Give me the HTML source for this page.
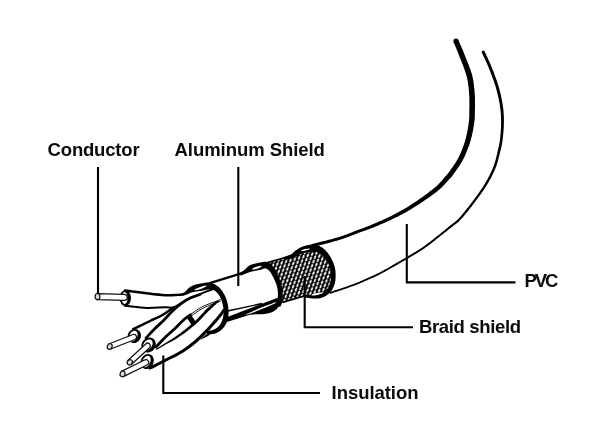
<!DOCTYPE html><html><head><meta charset="utf-8"><style>html,body{margin:0;padding:0;background:#fff;overflow:hidden}svg{display:block}</style></head><body><svg width="600" height="437" viewBox="0 0 600 437"><rect width="600" height="437" fill="#fff"/><path d="M453.6 42.0L454.0 42.9L454.3 43.8L454.7 44.7L455.0 45.5L455.4 46.4L455.8 47.2L456.1 48.1L456.5 49.0L456.8 49.8L457.2 50.7L457.5 51.6L457.9 52.5L458.3 53.5L458.7 54.5L459.1 55.5L459.5 56.6L459.9 57.7L460.4 58.9L460.9 60.1L461.4 61.4L461.9 62.7L462.4 64.0L462.9 65.3L463.4 66.6L463.9 68.0L464.4 69.3L464.9 70.6L465.3 71.9L465.7 73.2L466.1 74.5L466.5 75.7L466.8 76.9L467.1 78.1L467.3 79.2L467.6 80.4L467.8 81.6L468.0 82.8L468.1 83.9L468.3 85.1L468.4 86.3L468.6 87.4L468.7 88.6L468.8 89.7L468.9 90.8L469.0 92.0L469.0 93.1L469.1 94.1L469.2 95.2L469.3 96.2L469.3 97.2L469.4 98.2L469.4 99.2L469.4 100.1L469.4 101.1L469.4 102.0L469.4 102.9L469.4 103.8L469.4 104.7L469.4 105.6L469.4 106.5L469.4 107.4L469.3 108.2L469.3 109.1L469.3 110.0L469.3 110.8L469.3 111.6L469.3 112.4L469.3 113.1L469.3 113.8L469.3 114.5L469.3 115.2L469.3 115.9L469.3 116.5L469.2 117.2L469.2 117.9L469.2 118.6L469.1 119.3L469.0 120.1L469.0 120.8L468.9 121.7L468.8 122.5L468.6 123.4L468.5 124.4L468.4 125.4L468.2 126.4L468.0 127.4L467.9 128.5L467.7 129.5L467.5 130.5L467.3 131.6L467.1 132.6L466.9 133.6L466.7 134.6L466.4 135.6L466.2 136.5L466.0 137.4L465.8 138.2L465.6 139.0L465.4 139.8L465.2 140.6L464.9 141.3L464.7 142.1L464.5 142.8L464.2 143.5L464.0 144.2L463.8 144.9L463.5 145.6L463.3 146.3L463.0 147.0L462.7 147.7L462.5 148.4L462.2 149.1L462.0 149.7L461.7 150.4L461.5 151.0L461.2 151.7L460.9 152.3L460.7 152.9L460.4 153.5L460.2 154.1L459.9 154.7L459.6 155.3L459.3 155.8L459.1 156.4L458.8 157.0L458.5 157.6L458.1 158.2L457.8 158.8L457.5 159.4L457.1 160.0L456.8 160.6L456.4 161.3L456.0 161.9L455.6 162.5L455.2 163.2L454.8 163.8L454.4 164.4L453.9 165.1L453.5 165.7L453.1 166.3L452.7 166.9L452.3 167.5L451.9 168.0L451.5 168.6L451.1 169.1L450.8 169.6L450.5 170.1L450.2 170.5L449.9 170.9L449.6 171.3L449.3 171.7L449.0 172.1L448.7 172.5L448.4 172.9L448.1 173.3L447.7 173.8L447.3 174.2L446.9 174.7L446.4 175.3L445.8 175.9L445.2 176.6L444.6 177.3L444.0 178.0L443.4 178.7L442.8 179.4L442.2 180.2L441.5 180.9L440.8 181.7L440.1 182.5L439.3 183.3L438.5 184.2L437.6 185.0L436.7 185.9L435.8 186.8L434.7 187.7L433.6 188.6L432.4 189.6L431.1 190.6L429.7 191.6L428.3 192.8L426.7 193.9L425.1 195.0L423.5 196.2L421.8 197.4L420.1 198.6L418.4 199.7L416.8 200.9L415.1 202.0L413.5 203.1L411.9 204.1L410.4 205.1L409.0 206.0L407.6 206.9L406.3 207.7L405.0 208.5L403.7 209.2L402.5 209.9L401.3 210.6L400.0 211.3L398.8 212.0L397.7 212.6L396.5 213.2L395.3 213.8L394.1 214.4L392.9 215.0L391.7 215.7L390.5 216.3L389.3 216.9L388.0 217.5L386.7 218.1L385.4 218.7L384.1 219.3L382.8 219.9L381.5 220.5L380.2 221.1L378.9 221.6L377.6 222.2L376.3 222.8L375.1 223.3L373.9 223.8L372.7 224.3L371.5 224.8L370.5 225.2L369.4 225.7L368.4 226.1L367.5 226.4L366.6 226.8L365.8 227.1L365.0 227.4L364.2 227.7L363.5 227.9L362.8 228.2L362.1 228.5L361.4 228.7L360.7 229.0L359.9 229.2L359.2 229.5L358.5 229.7L357.7 230.0L357.0 230.3L356.2 230.6L355.4 230.9L354.6 231.2L353.8 231.5L353.0 231.8L352.3 232.2L351.5 232.5L350.7 232.8L349.9 233.1L349.2 233.4L348.4 233.7L347.6 234.0L346.8 234.3L346.1 234.6L345.3 234.9L344.5 235.1L343.7 235.4L343.0 235.7L342.2 235.9L341.4 236.2L340.6 236.4L339.9 236.7L339.1 236.9L338.3 237.2L337.5 237.4L336.8 237.6L336.0 237.9L335.2 238.1L334.4 238.3L333.7 238.6L332.9 238.8L332.1 239.0L331.3 239.2L330.5 239.4L329.7 239.6L328.9 239.8L328.0 240.1L327.2 240.3L326.4 240.5L325.5 240.7L324.7 240.9L323.9 241.0L323.1 241.2L322.4 241.4L321.6 241.6L320.9 241.8L320.2 241.9L319.6 242.1L319.0 242.2L318.4 242.4L317.9 242.5L317.4 242.6L317.0 242.8L316.5 242.9L316.1 243.0L315.7 243.1L315.3 243.2L314.9 243.3L314.5 243.4L314.1 243.5L313.8 243.6L313.4 243.7L313.0 243.8L312.5 244.0L312.1 244.1L311.6 244.2L311.1 244.4L310.7 244.5L310.2 244.6L309.7 244.8L309.3 244.9L308.8 245.0L308.3 245.2L307.9 245.3L307.4 245.4L306.9 245.6L306.5 245.7L306.0 245.8L305.5 246.0L306.5 249.2L306.9 249.1L307.4 249.0L307.9 248.8L308.3 248.7L308.8 248.6L309.3 248.4L309.7 248.3L310.2 248.2L310.7 248.0L311.1 247.9L311.6 247.8L312.1 247.6L312.5 247.5L313.0 247.4L313.5 247.2L313.9 247.1L314.3 247.0L314.7 246.9L315.1 246.7L315.5 246.6L315.9 246.5L316.2 246.4L316.6 246.2L317.0 246.1L317.4 246.0L317.8 245.9L318.3 245.7L318.8 245.6L319.3 245.4L319.8 245.3L320.4 245.1L321.0 244.9L321.7 244.8L322.4 244.6L323.1 244.4L323.9 244.2L324.6 244.0L325.5 243.8L326.3 243.6L327.1 243.4L327.9 243.2L328.8 242.9L329.6 242.7L330.5 242.5L331.3 242.3L332.1 242.0L332.9 241.8L333.7 241.6L334.5 241.3L335.3 241.1L336.0 240.9L336.8 240.7L337.6 240.4L338.4 240.2L339.2 239.9L340.0 239.7L340.8 239.4L341.5 239.2L342.3 238.9L343.1 238.7L343.9 238.4L344.7 238.1L345.5 237.9L346.3 237.6L347.1 237.3L347.9 237.0L348.6 236.7L349.4 236.4L350.2 236.1L351.0 235.8L351.8 235.5L352.6 235.2L353.4 234.9L354.1 234.6L354.9 234.3L355.7 234.0L356.5 233.7L357.3 233.4L358.0 233.1L358.8 232.8L359.5 232.6L360.2 232.3L360.9 232.1L361.7 231.8L362.4 231.6L363.1 231.3L363.8 231.1L364.5 230.8L365.3 230.6L366.1 230.3L366.9 230.0L367.7 229.6L368.6 229.3L369.6 228.9L370.6 228.5L371.6 228.1L372.7 227.7L373.9 227.2L375.1 226.7L376.3 226.2L377.6 225.7L378.9 225.2L380.2 224.6L381.5 224.1L382.8 223.5L384.2 222.9L385.5 222.3L386.8 221.7L388.2 221.1L389.5 220.5L390.7 219.9L392.0 219.3L393.2 218.7L394.4 218.1L395.7 217.6L396.9 217.0L398.1 216.4L399.3 215.7L400.5 215.1L401.8 214.5L403.0 213.8L404.3 213.1L405.6 212.4L406.9 211.7L408.2 210.9L409.6 210.1L411.0 209.2L412.5 208.3L414.0 207.3L415.6 206.3L417.3 205.3L419.0 204.2L420.7 203.1L422.4 201.9L424.1 200.8L425.8 199.6L427.5 198.4L429.2 197.3L430.7 196.2L432.3 195.1L433.7 194.0L435.1 193.0L436.4 192.0L437.6 191.1L438.7 190.1L439.7 189.2L440.7 188.3L441.7 187.4L442.5 186.5L443.4 185.7L444.2 184.8L444.9 184.0L445.6 183.2L446.3 182.5L447.0 181.8L447.6 181.1L448.2 180.4L448.8 179.7L449.4 179.1L449.9 178.5L450.5 177.9L450.9 177.4L451.4 176.9L451.8 176.4L452.2 175.9L452.5 175.5L452.9 175.0L453.2 174.6L453.5 174.2L453.8 173.8L454.1 173.3L454.4 172.9L454.8 172.4L455.1 171.9L455.5 171.4L455.9 170.9L456.3 170.3L456.7 169.7L457.2 169.1L457.6 168.5L458.0 167.8L458.5 167.2L458.9 166.5L459.3 165.9L459.8 165.2L460.2 164.5L460.6 163.9L461.0 163.2L461.4 162.5L461.8 161.9L462.2 161.2L462.5 160.6L462.9 159.9L463.2 159.3L463.5 158.7L463.9 158.0L464.2 157.4L464.5 156.8L464.8 156.2L465.0 155.5L465.3 154.9L465.6 154.3L465.9 153.6L466.2 153.0L466.4 152.3L466.7 151.6L467.0 150.9L467.2 150.2L467.5 149.5L467.8 148.8L468.1 148.1L468.3 147.4L468.6 146.7L468.9 146.0L469.2 145.2L469.4 144.5L469.7 143.7L469.9 142.9L470.2 142.1L470.4 141.3L470.7 140.4L470.9 139.5L471.2 138.6L471.4 137.7L471.6 136.8L471.9 135.8L472.1 134.7L472.3 133.7L472.5 132.6L472.8 131.6L473.0 130.5L473.2 129.4L473.4 128.3L473.6 127.3L473.7 126.2L473.9 125.2L474.1 124.2L474.2 123.3L474.3 122.3L474.4 121.5L474.5 120.6L474.6 119.8L474.7 119.0L474.7 118.2L474.8 117.5L474.8 116.7L474.8 116.0L474.8 115.3L474.8 114.6L474.9 113.9L474.9 113.1L474.9 112.4L474.9 111.6L474.9 110.9L474.9 110.0L474.9 109.2L474.9 108.4L475.0 107.5L475.0 106.6L475.0 105.7L475.0 104.8L475.0 103.9L475.0 102.9L475.0 102.0L475.0 101.0L475.0 100.0L475.0 99.0L475.0 98.0L474.9 96.9L474.9 95.9L474.8 94.8L474.7 93.7L474.6 92.6L474.5 91.5L474.5 90.4L474.4 89.2L474.2 88.0L474.1 86.8L474.0 85.6L473.8 84.4L473.7 83.2L473.5 81.9L473.3 80.6L473.1 79.4L472.8 78.1L472.5 76.8L472.2 75.5L471.9 74.2L471.5 72.9L471.0 71.5L470.6 70.1L470.1 68.8L469.6 67.4L469.1 66.0L468.5 64.6L468.0 63.3L467.5 62.0L466.9 60.6L466.4 59.4L465.9 58.1L465.4 56.9L465.0 55.7L464.5 54.6L464.1 53.5L463.7 52.5L463.3 51.5L462.9 50.5L462.5 49.6L462.1 48.7L461.7 47.8L461.4 46.9L461.0 46.0L460.6 45.2L460.2 44.3L459.9 43.5L459.5 42.6L459.2 41.8L458.8 40.9L458.4 40.0Z" fill="#000"/>
<path d="M481.8 52.6L482.2 53.5L482.6 54.3L483.0 55.1L483.4 55.9L483.7 56.7L484.1 57.4L484.5 58.2L484.9 59.0L485.2 59.8L485.6 60.6L486.0 61.5L486.4 62.3L486.8 63.2L487.2 64.2L487.6 65.1L488.0 66.2L488.5 67.3L488.9 68.4L489.4 69.6L489.9 70.8L490.4 72.1L490.9 73.4L491.4 74.7L491.9 76.0L492.4 77.4L492.9 78.7L493.4 80.1L493.9 81.4L494.3 82.8L494.8 84.1L495.2 85.4L495.6 86.6L495.9 87.9L496.3 89.1L496.6 90.4L497.0 91.7L497.3 92.9L497.6 94.2L497.9 95.5L498.2 96.7L498.4 97.9L498.7 99.2L498.9 100.4L499.2 101.6L499.4 102.8L499.6 104.0L499.8 105.1L500.0 106.2L500.1 107.3L500.3 108.4L500.4 109.4L500.5 110.4L500.6 111.4L500.7 112.4L500.8 113.4L500.9 114.3L500.9 115.3L501.0 116.2L501.0 117.2L501.0 118.1L501.1 119.1L501.1 120.0L501.1 121.0L501.1 122.0L501.1 123.0L501.1 124.0L501.1 125.0L501.0 126.0L501.0 127.1L501.0 128.1L500.9 129.1L500.8 130.2L500.8 131.2L500.7 132.2L500.6 133.2L500.5 134.2L500.4 135.1L500.3 136.1L500.3 137.0L500.2 137.8L500.1 138.7L500.0 139.5L499.9 140.2L499.8 141.0L499.7 141.7L499.6 142.3L499.5 143.0L499.3 143.7L499.2 144.4L499.1 145.0L498.9 145.7L498.8 146.4L498.6 147.2L498.4 148.0L498.2 148.8L498.0 149.7L497.8 150.6L497.6 151.6L497.4 152.6L497.1 153.6L496.9 154.7L496.6 155.8L496.3 156.9L496.1 158.0L495.8 159.1L495.5 160.2L495.2 161.3L494.8 162.4L494.5 163.5L494.1 164.6L493.7 165.7L493.3 166.7L492.9 167.8L492.5 168.9L492.0 169.9L491.6 171.0L491.1 172.0L490.6 173.1L490.1 174.1L489.6 175.2L489.0 176.3L488.5 177.3L487.9 178.4L487.3 179.4L486.7 180.5L486.1 181.6L485.5 182.6L484.9 183.7L484.2 184.7L483.6 185.8L482.9 186.9L482.2 187.9L481.5 189.0L480.8 190.1L480.0 191.1L479.3 192.2L478.5 193.3L477.7 194.4L477.0 195.4L476.2 196.5L475.4 197.6L474.6 198.7L473.8 199.7L473.0 200.8L472.2 201.9L471.3 203.0L470.4 204.2L469.6 205.3L468.7 206.5L467.7 207.7L466.8 208.8L465.9 210.0L465.0 211.1L464.1 212.2L463.2 213.3L462.4 214.3L461.5 215.3L460.8 216.2L460.0 217.1L459.3 217.9L458.6 218.6L458.0 219.2L457.5 219.8L456.9 220.3L456.4 220.7L455.9 221.1L455.5 221.5L455.0 221.9L454.5 222.3L454.1 222.6L453.6 223.0L453.1 223.3L452.6 223.7L452.0 224.1L451.5 224.6L450.8 225.1L450.2 225.6L449.6 226.1L449.0 226.6L448.3 227.1L447.7 227.7L447.0 228.2L446.4 228.7L445.7 229.3L445.0 229.8L444.3 230.4L443.6 231.0L442.8 231.6L442.0 232.2L441.2 232.9L440.4 233.5L439.5 234.2L438.6 234.9L437.6 235.7L436.7 236.4L435.7 237.2L434.7 238.0L433.7 238.8L432.7 239.7L431.6 240.5L430.5 241.4L429.4 242.2L428.3 243.1L427.1 244.0L426.0 244.8L424.8 245.7L423.6 246.5L422.3 247.4L421.1 248.2L419.8 249.1L418.4 249.9L417.0 250.8L415.6 251.7L414.1 252.6L412.6 253.5L411.1 254.4L409.6 255.3L408.1 256.1L406.6 257.0L405.2 257.9L403.7 258.7L402.3 259.6L400.9 260.4L399.5 261.2L398.2 262.0L396.8 262.8L395.4 263.6L394.1 264.3L392.7 265.1L391.3 265.9L390.0 266.7L388.7 267.4L387.4 268.2L386.1 268.9L384.9 269.6L383.7 270.2L382.6 270.8L381.5 271.4L380.5 272.0L379.6 272.5L378.7 272.9L378.0 273.3L377.3 273.6L376.7 273.9L376.2 274.2L375.7 274.4L375.2 274.6L374.8 274.8L374.4 275.0L374.0 275.2L373.6 275.3L373.1 275.5L372.6 275.7L372.1 276.0L371.5 276.2L370.8 276.5L370.1 276.9L369.3 277.2L368.5 277.6L367.7 277.9L366.9 278.3L366.0 278.7L365.2 279.1L364.3 279.5L363.4 279.9L362.5 280.3L361.6 280.7L360.7 281.1L359.8 281.5L358.9 281.9L358.0 282.2L357.2 282.6L356.3 282.9L355.5 283.2L354.6 283.6L353.7 283.9L352.9 284.2L352.0 284.5L351.2 284.8L350.3 285.1L349.4 285.4L348.6 285.7L347.7 286.1L346.8 286.4L346.0 286.7L345.1 287.0L344.3 287.3L343.4 287.5L342.5 287.9L341.6 288.2L340.7 288.5L339.8 288.8L338.8 289.1L337.9 289.4L337.0 289.7L336.1 290.0L335.2 290.3L334.3 290.6L333.4 290.9L332.5 291.2L331.5 291.5L330.6 291.8L329.7 292.1L330.3 293.9L331.2 293.5L332.1 293.2L333.0 292.9L333.9 292.6L334.8 292.3L335.8 292.0L336.7 291.7L337.6 291.4L338.5 291.1L339.4 290.8L340.3 290.5L341.2 290.2L342.2 289.9L343.1 289.6L344.0 289.3L344.9 289.0L345.7 288.7L346.6 288.4L347.4 288.1L348.3 287.8L349.2 287.4L350.0 287.1L350.9 286.8L351.8 286.5L352.6 286.2L353.5 285.9L354.4 285.6L355.2 285.2L356.1 284.9L357.0 284.6L357.8 284.2L358.7 283.9L359.6 283.5L360.5 283.1L361.4 282.8L362.3 282.4L363.2 282.0L364.1 281.6L365.0 281.2L365.9 280.8L366.8 280.4L367.7 280.0L368.5 279.6L369.3 279.3L370.1 278.9L370.9 278.6L371.6 278.3L372.2 278.0L372.8 277.7L373.4 277.5L373.9 277.3L374.3 277.1L374.7 276.9L375.2 276.7L375.6 276.6L376.0 276.4L376.5 276.1L377.0 275.9L377.5 275.6L378.2 275.3L378.8 275.0L379.6 274.6L380.4 274.1L381.4 273.6L382.4 273.1L383.5 272.5L384.6 271.9L385.8 271.2L387.0 270.5L388.3 269.8L389.6 269.1L390.9 268.3L392.3 267.6L393.6 266.8L395.0 266.0L396.4 265.2L397.8 264.4L399.1 263.6L400.5 262.8L401.8 262.0L403.2 261.2L404.7 260.4L406.1 259.5L407.6 258.7L409.1 257.8L410.6 256.9L412.1 256.1L413.6 255.2L415.1 254.3L416.6 253.4L418.0 252.5L419.4 251.6L420.8 250.7L422.2 249.9L423.5 249.0L424.7 248.2L425.9 247.3L427.1 246.4L428.3 245.6L429.5 244.7L430.6 243.8L431.7 243.0L432.8 242.1L433.9 241.2L435.0 240.4L436.0 239.6L437.0 238.8L437.9 238.0L438.9 237.2L439.8 236.5L440.7 235.8L441.6 235.1L442.4 234.4L443.3 233.8L444.0 233.2L444.8 232.6L445.6 232.0L446.3 231.4L447.0 230.9L447.7 230.3L448.3 229.8L449.0 229.3L449.6 228.8L450.3 228.2L450.9 227.7L451.5 227.2L452.2 226.7L452.8 226.2L453.3 225.8L453.8 225.4L454.4 225.0L454.8 224.7L455.3 224.3L455.8 224.0L456.3 223.6L456.8 223.2L457.3 222.8L457.8 222.4L458.4 221.9L459.0 221.3L459.6 220.7L460.2 220.1L460.9 219.3L461.6 218.5L462.4 217.7L463.2 216.7L464.1 215.7L464.9 214.7L465.8 213.6L466.7 212.5L467.7 211.4L468.6 210.2L469.5 209.0L470.4 207.9L471.4 206.7L472.3 205.5L473.1 204.4L474.0 203.3L474.8 202.2L475.6 201.1L476.4 200.0L477.2 199.0L478.0 197.9L478.8 196.8L479.6 195.7L480.4 194.7L481.2 193.6L481.9 192.5L482.7 191.4L483.4 190.3L484.2 189.3L484.9 188.2L485.6 187.1L486.3 186.0L486.9 184.9L487.6 183.8L488.2 182.8L488.8 181.7L489.4 180.6L490.0 179.5L490.6 178.5L491.2 177.4L491.7 176.3L492.3 175.2L492.8 174.1L493.3 173.1L493.8 172.0L494.3 170.9L494.8 169.8L495.2 168.7L495.7 167.7L496.1 166.5L496.5 165.4L496.9 164.3L497.2 163.2L497.6 162.0L497.9 160.9L498.2 159.7L498.5 158.6L498.8 157.5L499.1 156.4L499.4 155.3L499.6 154.2L499.9 153.2L500.1 152.2L500.3 151.2L500.6 150.3L500.8 149.4L501.0 148.6L501.2 147.8L501.3 147.0L501.5 146.3L501.7 145.6L501.8 144.9L501.9 144.2L502.1 143.5L502.2 142.8L502.3 142.1L502.4 141.4L502.5 140.6L502.6 139.8L502.7 139.0L502.8 138.2L502.9 137.3L503.0 136.3L503.1 135.4L503.2 134.4L503.3 133.4L503.4 132.4L503.5 131.4L503.6 130.3L503.6 129.3L503.7 128.2L503.8 127.2L503.8 126.1L503.8 125.1L503.9 124.1L503.9 123.0L503.9 122.0L503.9 121.0L503.9 120.0L503.9 119.0L503.9 118.1L503.8 117.1L503.8 116.1L503.8 115.1L503.7 114.2L503.6 113.2L503.6 112.2L503.5 111.1L503.4 110.1L503.3 109.1L503.1 108.0L503.0 106.9L502.8 105.8L502.7 104.6L502.5 103.5L502.3 102.3L502.0 101.1L501.8 99.8L501.6 98.6L501.3 97.3L501.0 96.1L500.8 94.8L500.5 93.5L500.2 92.2L499.8 90.9L499.5 89.6L499.2 88.3L498.8 87.1L498.4 85.8L498.0 84.5L497.6 83.2L497.2 81.8L496.7 80.4L496.2 79.1L495.7 77.7L495.2 76.3L494.7 75.0L494.2 73.6L493.7 72.3L493.2 71.0L492.7 69.7L492.2 68.5L491.7 67.3L491.2 66.1L490.8 65.0L490.4 64.0L489.9 63.0L489.5 62.0L489.1 61.1L488.7 60.2L488.3 59.4L487.9 58.5L487.6 57.7L487.2 56.9L486.8 56.1L486.4 55.4L486.1 54.6L485.7 53.8L485.3 53.0L484.9 52.2L484.6 51.4Z" fill="#000"/>
<circle cx="456" cy="41" r="2.6"/>
<circle cx="483.2" cy="52" r="1.5"/>
<defs><pattern id="hatch" patternUnits="userSpaceOnUse" width="8.02" height="4.18" patternTransform="rotate(-43.4)"><rect width="8.02" height="4.18" fill="#000"/><ellipse cx="0.00" cy="0.00" rx="1.95" ry="0.95" transform="rotate(-19.6 0.00 0.00)" fill="#fff"/><ellipse cx="8.02" cy="0.00" rx="1.95" ry="0.95" transform="rotate(-19.6 8.02 0.00)" fill="#fff"/><ellipse cx="0.00" cy="4.18" rx="1.95" ry="0.95" transform="rotate(-19.6 0.00 4.18)" fill="#fff"/><ellipse cx="8.02" cy="4.18" rx="1.95" ry="0.95" transform="rotate(-19.6 8.02 4.18)" fill="#fff"/><ellipse cx="4.01" cy="2.09" rx="1.95" ry="0.95" transform="rotate(-19.6 4.01 2.09)" fill="#fff"/></pattern></defs>
<path d="M266.0 264.0C267.1 262.0 275.3 261.0 280.0 259.5C284.7 258.0 289.2 256.8 294.0 255.0C298.8 253.2 304.3 249.5 309.0 249.0C313.7 248.5 318.5 249.8 322.0 252.0C325.5 254.2 328.2 258.7 330.0 262.0C331.8 265.3 332.7 268.5 333.0 272.0C333.3 275.5 333.0 279.7 332.0 283.0C331.0 286.3 329.3 289.8 327.0 292.0C324.7 294.2 321.2 295.9 318.0 296.5C314.8 297.1 313.8 294.5 308.0 295.5C302.2 296.5 287.7 301.4 283.0 302.5C278.3 303.6 280.4 303.5 280.0 301.8C279.6 300.1 280.8 295.8 280.5 292.4C280.2 289.0 279.4 285.0 278.2 281.5C277.0 278.0 275.5 274.4 273.5 271.5C271.5 268.6 264.9 266.0 266.0 264.0Z" fill="url(#hatch)"/>
<path d="M284.3 259.5L284.9 259.4L285.4 259.3L286.0 259.2L286.6 259.1L287.2 259.0L287.8 258.9L288.4 258.8L288.9 258.7L289.5 258.5L290.1 258.4L290.7 258.3L291.2 258.2L291.8 258.1L292.3 257.9L292.8 257.8L293.3 257.6L293.8 257.5L294.2 257.3L294.7 257.1L295.0 256.9L295.4 256.7L295.7 256.5L296.1 256.3L296.3 256.2L296.6 256.0L296.9 255.9L297.1 255.7L297.3 255.6L297.6 255.5L297.8 255.4L298.0 255.3L298.3 255.2L298.7 255.1L299.1 254.9L299.5 254.7L299.9 254.5L300.3 254.3L300.8 254.2L301.2 254.0L301.6 253.8L302.1 253.6L302.5 253.5L302.9 253.3L303.4 253.2L303.8 253.1L304.2 252.9L304.6 252.9L304.9 252.8L305.3 252.7L305.7 252.6L306.1 252.5L306.5 252.5L306.9 252.4L307.2 252.4L307.6 252.3L308.0 252.3L308.4 252.3L308.9 252.2L309.3 252.2L309.7 252.2L310.1 252.2L310.5 252.2L310.9 252.2L311.4 252.2L311.8 252.2L312.3 252.1L312.7 252.1L313.2 252.1L313.6 252.0L314.0 252.0L314.4 252.0L314.8 252.0L315.2 252.0L315.5 252.0L315.8 252.0L316.2 252.0L316.5 252.1L316.8 252.1L317.0 252.2L317.3 252.3L317.6 252.4L317.9 252.5L318.3 252.6L318.6 252.8L319.0 252.9L319.3 253.1L319.7 253.4L320.1 253.6L320.4 253.8L320.8 254.1L321.2 254.4L321.5 254.7L321.9 255.0L322.3 255.3L322.6 255.6L323.0 255.9L323.3 256.2L323.6 256.6L323.9 256.9L324.3 257.3L324.6 257.7L324.9 258.1L325.2 258.5L325.5 258.9L325.8 259.3L326.1 259.8L326.4 260.2L326.7 260.7L327.0 261.1L327.2 261.6L327.5 262.1L327.7 262.6L328.0 263.1L328.2 263.6L328.5 264.1L328.7 264.6L328.9 265.2L329.1 265.7L329.3 266.2L329.5 266.8L329.7 267.3L329.9 267.8L330.0 268.4L330.2 269.0L330.3 269.5L330.4 270.1L330.5 270.7L330.6 271.3L330.7 271.9L330.8 272.6L330.8 273.3L330.8 274.0L330.9 274.7L330.9 275.5L330.9 276.2L330.9 277.0L330.9 277.7L330.8 278.4L330.8 279.2L330.7 279.9L330.6 280.5L330.5 281.2L330.4 281.8L330.2 282.4L330.1 283.0L329.9 283.6L329.7 284.1L329.5 284.7L329.3 285.3L329.1 285.8L328.8 286.4L328.5 286.9L328.3 287.4L328.0 287.9L327.7 288.4L327.3 288.8L327.0 289.3L326.7 289.7L326.3 290.1L326.0 290.5L325.6 290.8L325.3 291.2L324.9 291.5L324.5 291.9L324.0 292.2L323.6 292.5L323.1 292.8L322.6 293.0L322.2 293.3L321.7 293.5L321.2 293.8L320.6 294.0L320.1 294.2L319.6 294.3L319.1 294.5L318.6 294.7L318.1 294.8L317.6 294.9L317.0 295.0L316.4 295.0L315.8 295.1L315.2 295.1L314.6 295.1L313.9 295.1L313.3 295.1L312.6 295.1L312.0 295.0L311.4 295.0L310.8 295.0L310.2 294.9L309.6 294.9L309.1 294.9L308.6 294.9L308.1 294.9L307.7 294.9L307.3 294.9L306.9 294.9L306.5 294.9L306.1 294.9L305.8 294.9L305.4 294.8L305.0 294.8L304.7 294.8L304.3 294.8L303.9 294.7L303.5 294.7L303.1 294.7L302.9 296.9L303.2 297.0L303.6 297.1L304.0 297.1L304.3 297.2L304.7 297.3L305.0 297.4L305.4 297.5L305.7 297.6L306.1 297.6L306.5 297.7L307.0 297.8L307.4 297.9L307.9 297.9L308.4 298.0L308.9 298.1L309.4 298.1L310.0 298.2L310.5 298.2L311.1 298.3L311.8 298.4L312.4 298.4L313.1 298.5L313.8 298.6L314.5 298.6L315.2 298.6L315.9 298.6L316.6 298.6L317.3 298.6L318.0 298.6L318.7 298.5L319.4 298.3L320.1 298.2L320.7 298.0L321.4 297.8L322.0 297.6L322.6 297.4L323.2 297.2L323.9 296.9L324.5 296.6L325.1 296.3L325.7 296.0L326.3 295.6L326.9 295.2L327.4 294.8L328.0 294.4L328.5 294.0L329.0 293.5L329.5 293.0L330.0 292.5L330.4 292.0L330.9 291.4L331.3 290.9L331.7 290.3L332.1 289.7L332.5 289.1L332.8 288.4L333.2 287.8L333.5 287.1L333.8 286.4L334.1 285.7L334.3 285.0L334.5 284.3L334.8 283.6L335.0 282.8L335.1 282.0L335.3 281.3L335.4 280.4L335.5 279.6L335.5 278.8L335.6 277.9L335.6 277.1L335.6 276.3L335.6 275.4L335.6 274.6L335.6 273.8L335.6 273.0L335.5 272.2L335.5 271.5L335.4 270.7L335.3 270.0L335.2 269.3L335.0 268.5L334.9 267.8L334.7 267.2L334.6 266.5L334.4 265.8L334.2 265.2L333.9 264.6L333.7 263.9L333.5 263.3L333.3 262.7L333.0 262.1L332.8 261.6L332.5 261.0L332.3 260.4L332.0 259.9L331.7 259.3L331.4 258.7L331.2 258.2L330.9 257.6L330.6 257.1L330.2 256.5L329.9 256.0L329.6 255.5L329.2 255.0L328.9 254.5L328.5 254.0L328.2 253.5L327.8 253.0L327.4 252.5L327.0 252.1L326.7 251.7L326.3 251.2L325.9 250.8L325.5 250.4L325.0 249.9L324.6 249.5L324.2 249.1L323.7 248.7L323.3 248.4L322.8 248.0L322.3 247.6L321.8 247.3L321.3 247.0L320.8 246.7L320.2 246.4L319.7 246.1L319.1 245.9L318.5 245.7L317.9 245.5L317.3 245.4L316.7 245.3L316.2 245.2L315.6 245.1L315.1 245.1L314.5 245.1L314.0 245.0L313.5 245.0L313.0 245.0L312.5 245.0L312.0 245.0L311.6 245.0L311.1 245.0L310.7 245.0L310.2 245.1L309.7 245.1L309.2 245.2L308.7 245.2L308.2 245.3L307.7 245.4L307.2 245.4L306.7 245.5L306.2 245.6L305.6 245.7L305.1 245.8L304.6 246.0L304.1 246.1L303.6 246.3L303.1 246.4L302.5 246.6L302.0 246.8L301.5 247.1L301.0 247.3L300.5 247.6L300.0 247.8L299.5 248.1L299.0 248.3L298.5 248.6L298.1 248.9L297.7 249.1L297.2 249.4L296.8 249.7L296.4 249.9L296.0 250.1L295.7 250.4L295.3 250.7L294.9 250.9L294.6 251.2L294.3 251.5L294.0 251.8L293.7 252.0L293.5 252.3L293.3 252.5L293.2 252.7L293.0 252.9L292.8 253.1L292.6 253.2L292.5 253.4L292.2 253.6L292.0 253.8L291.7 254.0L291.3 254.2L291.0 254.4L290.5 254.6L290.1 254.8L289.6 255.0L289.1 255.2L288.6 255.5L288.1 255.7L287.5 255.9L287.0 256.1L286.4 256.3L285.8 256.6L285.3 256.8L284.7 257.0L284.2 257.2L283.7 257.5Z" fill="#000"/>
<ellipse cx="305.5" cy="249.7" rx="4.5" ry="0.8" transform="rotate(-12 305.5 249.7)" fill="#fff"/>
<ellipse cx="317" cy="294" rx="5.5" ry="1.0" transform="rotate(-12 317 294)" fill="#fff"/>
<path d="M240.6 275.6L241.0 275.5L241.4 275.3L241.8 275.2L242.2 275.0L242.6 274.9L243.0 274.7L243.4 274.5L243.8 274.4L244.2 274.2L244.6 274.0L245.0 273.9L245.4 273.7L245.8 273.6L246.2 273.4L246.6 273.3L247.0 273.1L247.4 273.0L247.8 272.8L248.2 272.7L248.6 272.5L249.0 272.4L249.3 272.3L249.7 272.1L250.0 272.0L250.3 271.9L250.6 271.8L250.9 271.7L251.2 271.7L251.5 271.6L251.8 271.6L252.1 271.5L252.5 271.5L252.8 271.4L253.1 271.3L253.5 271.2L253.9 271.1L254.3 271.0L254.7 270.9L255.2 270.8L255.6 270.7L256.1 270.6L256.6 270.5L257.1 270.5L257.5 270.4L258.0 270.3L258.5 270.2L259.0 270.1L259.5 270.0L260.0 269.9L260.6 269.7L261.1 269.6L261.6 269.4L262.1 269.3L262.5 269.1L262.9 269.0L263.3 268.8L263.7 268.7L264.1 268.6L264.4 268.6L264.7 268.5L264.9 268.5L265.1 268.4L265.3 268.4L265.4 268.4L265.6 268.4L265.7 268.5L265.9 268.5L266.2 268.6L266.4 268.7L266.6 268.8L266.9 268.9L267.1 269.1L267.4 269.2L267.6 269.4L267.9 269.6L268.2 269.9L268.5 270.1L268.8 270.4L269.0 270.6L269.3 270.9L269.6 271.2L269.8 271.4L270.0 271.7L270.3 272.0L270.5 272.4L270.7 272.7L271.0 273.1L271.2 273.5L271.5 274.0L271.7 274.4L271.9 274.8L272.2 275.3L272.4 275.7L272.7 276.2L272.9 276.7L273.2 277.1L273.4 277.6L273.6 278.1L273.9 278.5L274.1 279.0L274.3 279.5L274.6 279.9L274.8 280.4L275.0 280.9L275.2 281.4L275.4 281.9L275.6 282.3L275.8 282.8L276.0 283.3L276.1 283.8L276.3 284.2L276.5 284.7L276.6 285.2L276.7 285.7L276.9 286.1L277.0 286.6L277.1 287.1L277.2 287.6L277.3 288.1L277.4 288.5L277.5 289.0L277.6 289.5L277.6 290.0L277.7 290.5L277.8 291.0L277.8 291.5L277.9 292.0L277.9 292.5L277.9 293.1L277.9 293.6L277.9 294.2L277.9 294.8L277.9 295.4L277.9 296.0L277.9 296.6L277.9 297.2L277.8 297.8L277.8 298.4L277.7 299.0L277.7 299.5L277.6 300.1L277.6 300.6L277.5 301.0L277.4 301.4L277.4 301.7L277.3 302.0L277.3 302.3L277.2 302.5L277.1 302.7L277.1 302.8L277.0 303.0L276.9 303.2L276.8 303.4L276.7 303.6L276.5 303.8L276.4 304.1L276.2 304.4L276.1 304.8L276.0 305.1L280.0 306.9L280.2 306.7L280.3 306.5L280.4 306.4L280.5 306.2L280.6 306.0L280.8 305.7L280.9 305.5L281.1 305.2L281.3 304.9L281.5 304.5L281.6 304.1L281.8 303.7L281.9 303.2L282.0 302.7L282.2 302.2L282.2 301.7L282.3 301.2L282.4 300.6L282.5 300.0L282.5 299.4L282.6 298.8L282.6 298.2L282.7 297.5L282.7 296.8L282.7 296.2L282.7 295.5L282.7 294.8L282.7 294.2L282.7 293.5L282.7 292.9L282.7 292.3L282.7 291.7L282.6 291.1L282.6 290.5L282.5 289.9L282.4 289.4L282.4 288.8L282.3 288.2L282.2 287.7L282.1 287.1L282.0 286.6L281.8 286.0L281.7 285.5L281.6 284.9L281.4 284.4L281.3 283.9L281.1 283.3L281.0 282.8L280.8 282.2L280.6 281.6L280.4 281.1L280.2 280.5L280.0 280.0L279.8 279.5L279.6 278.9L279.4 278.4L279.2 277.9L279.0 277.4L278.7 276.8L278.5 276.3L278.3 275.8L278.1 275.3L277.8 274.9L277.6 274.4L277.4 273.9L277.2 273.4L277.0 272.9L276.8 272.4L276.5 271.9L276.3 271.4L276.1 270.9L275.8 270.4L275.5 269.9L275.3 269.5L275.0 269.0L274.7 268.5L274.4 268.0L274.0 267.5L273.7 267.1L273.4 266.7L273.0 266.3L272.7 265.9L272.3 265.6L272.0 265.2L271.6 264.8L271.2 264.4L270.8 264.1L270.4 263.8L269.9 263.4L269.4 263.1L268.9 262.8L268.4 262.6L267.8 262.3L267.2 262.1L266.6 262.0L265.9 261.8L265.3 261.8L264.6 261.8L264.0 261.8L263.4 261.9L262.8 261.9L262.2 262.0L261.7 262.2L261.1 262.3L260.6 262.4L260.1 262.5L259.7 262.6L259.2 262.7L258.8 262.8L258.4 262.9L258.0 263.0L257.6 263.1L257.1 263.2L256.6 263.3L256.1 263.4L255.6 263.5L255.1 263.6L254.6 263.7L254.1 263.9L253.6 264.0L253.1 264.1L252.6 264.3L252.1 264.4L251.6 264.6L251.0 264.7L250.5 264.9L250.0 265.1L249.6 265.4L249.1 265.7L248.7 266.0L248.3 266.2L248.0 266.5L247.7 266.8L247.3 267.1L247.1 267.4L246.8 267.7L246.5 268.0L246.3 268.2L246.0 268.5L245.8 268.7L245.5 269.0L245.3 269.3L245.0 269.5L244.7 269.7L244.4 270.0L244.0 270.2L243.7 270.4L243.3 270.7L243.0 270.9L242.6 271.2L242.3 271.4L241.9 271.6L241.5 271.9L241.2 272.1L240.8 272.4L240.5 272.6L240.1 272.9L239.7 273.1L239.4 273.4Z" fill="#000"/>
<ellipse cx="256.9" cy="267.7" rx="5" ry="1.0" transform="rotate(-17 256.9 267.7)" fill="#fff"/>
<path d="M266.0 263.0C270.7 261.7 275.5 260.3 280.0 259.0C284.5 257.7 288.7 256.3 293.0 255.0" stroke="#000" stroke-width="1.8" fill="none"/>
<path d="M283.0 302.3C287.3 301.0 291.8 299.5 296.0 298.3C300.2 297.1 304.0 296.1 308.0 295.0" stroke="#000" stroke-width="1.8" fill="none"/>
<path d="M209 283.4L244.5 272.3" stroke="#000" stroke-width="2.3" fill="none"/>
<path d="M226 317.5L279 297.2L281.5 297.5C281 303 279 307 276 309.8C272 312.8 268 314 262 314.2C257 314.3 254 314 250 314.8L226 322.3Z" fill="#000"/>
<ellipse cx="261" cy="308.6" rx="16.5" ry="0.8" transform="rotate(-22 261 308.6)" fill="#fff"/>
<path d="M227.5 311L262 303.5" stroke="#000" stroke-width="1.3" fill="none"/>
<path d="M182.9 295.6L183.2 295.5L183.4 295.4L183.7 295.4L184.0 295.3L184.2 295.2L184.5 295.2L184.8 295.1L185.0 295.0L185.3 295.0L185.6 294.9L185.9 294.8L186.2 294.7L186.5 294.6L186.7 294.5L187.0 294.4L187.4 294.3L187.7 294.2L188.0 294.0L188.3 293.9L188.6 293.7L188.9 293.6L189.2 293.4L189.5 293.3L189.8 293.1L190.1 293.0L190.4 292.9L190.6 292.8L190.9 292.7L191.1 292.6L191.3 292.5L191.6 292.4L191.8 292.4L192.0 292.3L192.3 292.2L192.5 292.2L192.7 292.1L193.0 292.1L193.2 292.0L193.4 292.0L193.6 291.9L193.9 291.9L194.1 291.8L194.4 291.8L194.6 291.8L194.9 291.7L195.2 291.7L195.5 291.6L195.9 291.6L196.2 291.5L196.5 291.5L196.9 291.4L197.3 291.3L197.7 291.3L198.1 291.2L198.5 291.2L199.0 291.1L199.4 291.0L199.9 291.0L200.3 290.9L200.8 290.9L201.2 290.8L201.7 290.8L202.2 290.7L202.6 290.6L203.1 290.5L203.6 290.4L204.1 290.3L204.5 290.2L205.0 290.1L205.4 290.0L205.8 289.9L206.2 289.8L206.6 289.7L206.9 289.7L207.3 289.6L207.6 289.6L207.9 289.5L208.2 289.5L208.5 289.5L208.8 289.5L209.1 289.5L209.4 289.4L209.8 289.4L210.1 289.5L210.4 289.5L210.8 289.5L211.1 289.5L211.5 289.6L211.8 289.7L212.2 289.7L212.5 289.8L212.8 289.9L213.1 290.0L213.5 290.1L213.8 290.2L214.1 290.3L214.4 290.5L214.6 290.7L214.9 290.9L215.2 291.1L215.5 291.3L215.8 291.5L216.0 291.8L216.3 292.0L216.6 292.3L216.9 292.6L217.1 292.9L217.4 293.2L217.7 293.5L217.9 293.8L218.2 294.1L218.5 294.4L218.7 294.8L218.9 295.1L219.1 295.5L219.4 295.9L219.6 296.2L219.8 296.6L220.0 297.0L220.2 297.4L220.4 297.8L220.6 298.3L220.8 298.7L221.0 299.1L221.2 299.5L221.3 300.0L221.5 300.4L221.6 300.8L221.8 301.3L221.9 301.7L222.1 302.2L222.2 302.6L222.3 303.1L222.5 303.5L222.6 304.0L222.7 304.5L222.8 305.0L222.9 305.4L223.0 305.9L223.1 306.4L223.1 306.9L223.2 307.3L223.3 307.8L223.3 308.3L223.4 308.8L223.4 309.2L223.5 309.7L223.5 310.2L223.5 310.6L223.5 311.1L223.5 311.6L223.6 312.1L223.6 312.5L223.5 313.0L223.5 313.4L223.5 313.9L223.5 314.3L223.4 314.8L223.4 315.2L223.3 315.6L223.3 316.1L223.2 316.5L223.1 317.0L223.0 317.4L222.9 317.9L222.8 318.3L222.7 318.8L222.6 319.2L222.5 319.6L222.3 320.1L222.2 320.5L222.0 320.9L221.9 321.3L221.7 321.7L221.5 322.0L221.4 322.4L221.2 322.7L221.0 323.1L220.8 323.4L220.6 323.8L220.4 324.1L220.2 324.4L219.9 324.7L219.7 325.1L219.4 325.4L219.2 325.7L218.9 325.9L218.7 326.2L218.4 326.5L218.1 326.8L217.9 327.0L217.6 327.3L217.3 327.5L217.1 327.7L216.8 327.9L216.5 328.1L216.2 328.3L215.8 328.5L215.5 328.7L215.2 328.9L214.8 329.1L214.5 329.3L214.2 329.4L213.8 329.6L213.5 329.7L213.1 329.8L212.8 330.0L212.5 330.1L212.1 330.2L211.8 330.3L211.5 330.4L211.2 330.5L210.8 330.5L210.5 330.6L210.1 330.6L209.8 330.7L209.4 330.7L209.0 330.8L208.6 330.8L208.2 330.8L207.7 330.9L207.3 330.9L206.9 331.0L207.1 334.0L207.5 334.0L207.9 334.0L208.2 334.0L208.6 334.1L209.0 334.1L209.4 334.1L209.8 334.1L210.3 334.1L210.7 334.2L211.2 334.2L211.6 334.1L212.1 334.1L212.6 334.1L213.1 334.0L213.5 333.9L214.0 333.8L214.4 333.7L214.8 333.5L215.3 333.4L215.7 333.2L216.1 333.1L216.6 332.9L217.0 332.7L217.5 332.5L217.9 332.3L218.3 332.1L218.7 331.8L219.2 331.6L219.6 331.3L220.0 331.0L220.4 330.7L220.8 330.4L221.2 330.1L221.5 329.8L221.9 329.5L222.2 329.1L222.6 328.8L222.9 328.4L223.3 328.0L223.6 327.6L223.9 327.2L224.2 326.8L224.5 326.4L224.8 326.0L225.1 325.5L225.4 325.1L225.6 324.6L225.9 324.1L226.1 323.7L226.3 323.2L226.5 322.7L226.7 322.2L226.9 321.7L227.1 321.1L227.3 320.6L227.4 320.1L227.6 319.6L227.7 319.0L227.9 318.5L228.0 318.0L228.1 317.4L228.2 316.9L228.3 316.4L228.3 315.8L228.4 315.3L228.5 314.7L228.5 314.2L228.5 313.6L228.5 313.1L228.6 312.6L228.6 312.0L228.5 311.5L228.5 310.9L228.5 310.4L228.5 309.8L228.4 309.3L228.4 308.8L228.3 308.2L228.3 307.7L228.2 307.2L228.1 306.6L228.1 306.1L228.0 305.6L227.9 305.0L227.8 304.5L227.7 303.9L227.6 303.4L227.4 302.9L227.3 302.3L227.2 301.8L227.0 301.2L226.9 300.7L226.7 300.2L226.5 299.7L226.4 299.2L226.2 298.7L226.0 298.2L225.8 297.7L225.6 297.2L225.4 296.7L225.2 296.2L224.9 295.7L224.7 295.2L224.4 294.7L224.2 294.2L223.9 293.8L223.7 293.3L223.4 292.9L223.1 292.4L222.8 292.0L222.5 291.6L222.3 291.1L222.0 290.7L221.7 290.3L221.4 289.9L221.1 289.5L220.7 289.1L220.4 288.7L220.1 288.4L219.7 288.0L219.3 287.6L219.0 287.3L218.6 286.9L218.2 286.6L217.8 286.3L217.4 286.0L216.9 285.7L216.5 285.4L216.1 285.1L215.6 284.8L215.2 284.5L214.7 284.3L214.2 284.1L213.8 283.9L213.3 283.7L212.8 283.5L212.3 283.3L211.8 283.1L211.3 283.0L210.8 282.8L210.3 282.7L209.8 282.6L209.2 282.5L208.7 282.5L208.1 282.5L207.5 282.5L206.9 282.5L206.4 282.6L205.9 282.6L205.4 282.7L204.9 282.8L204.4 282.8L203.9 282.9L203.5 283.0L203.0 283.1L202.6 283.2L202.2 283.2L201.8 283.3L201.4 283.4L201.0 283.4L200.5 283.5L200.1 283.6L199.6 283.7L199.1 283.8L198.7 283.9L198.2 284.0L197.7 284.1L197.3 284.2L196.8 284.3L196.3 284.4L195.9 284.5L195.4 284.6L195.0 284.8L194.6 284.9L194.1 285.0L193.8 285.1L193.4 285.3L193.1 285.4L192.7 285.6L192.4 285.7L192.1 285.9L191.8 286.0L191.5 286.2L191.2 286.4L190.9 286.5L190.6 286.7L190.3 286.9L190.1 287.0L189.8 287.2L189.5 287.4L189.2 287.6L188.9 287.9L188.6 288.1L188.3 288.4L188.1 288.6L187.8 288.9L187.6 289.2L187.3 289.4L187.1 289.7L186.9 289.9L186.7 290.1L186.5 290.4L186.3 290.6L186.2 290.8L186.0 291.0L185.8 291.2L185.6 291.3L185.5 291.5L185.3 291.6L185.0 291.8L184.8 291.9L184.6 292.1L184.4 292.2L184.2 292.4L184.0 292.5L183.7 292.6L183.5 292.8L183.3 292.9L183.0 293.1L182.8 293.2L182.6 293.3L182.3 293.5L182.1 293.6Z" fill="#000"/>
<ellipse cx="200.5" cy="287.9" rx="6.5" ry="1.05" transform="rotate(-19 200.5 287.9)" fill="#fff"/>
<path d="M125.0 290.5C132.2 291.4 140.0 292.5 146.7 293.3C153.4 294.1 159.8 294.9 165.0 295.2C170.2 295.5 174.9 295.0 178.0 294.9C181.1 294.8 181.7 294.6 183.5 294.4" stroke="#000" stroke-width="2.4" fill="none" stroke-linecap="round"/>
<path d="M125.0 305.7C132.2 306.5 140.0 307.8 146.7 308.0C153.4 308.2 160.6 307.3 165.0 307.2C169.4 307.1 170.5 308.1 173.0 307.5C175.5 306.9 177.7 305.1 180.0 303.8C182.3 302.6 184.5 301.3 187.0 300.0C189.5 298.7 192.3 297.4 195.0 296.2C197.7 295.0 200.2 293.9 203.0 292.8C205.8 291.7 209.0 290.6 212.0 289.5" stroke="#000" stroke-width="1.9" fill="none" stroke-linecap="round"/>
<ellipse cx="125.3" cy="298.2" rx="5.7" ry="8.0" transform="rotate(0 125.3 298.2)" fill="#000"/><ellipse cx="124.6" cy="297.9" rx="2.9" ry="6.0" transform="rotate(0 124.6 297.9)" fill="#fff"/>
<path d="M97.4 299.7L124.2 300.3A3.00 3.00 0 0 0 124.4 294.3L97.6 293.7Z" fill="#fff" stroke="#111" stroke-width="1.25"/>
<ellipse cx="97.5" cy="296.6" rx="2.4" ry="3.1" transform="rotate(0 97.5 296.6)" fill="#ddd" stroke="#111" stroke-width="1.2"/>
<path d="M133.2 329.2C138.8 326.5 145.3 323.3 150.0 321.0C154.7 318.7 157.8 317.7 161.6 315.5C165.4 313.3 169.2 310.4 173.0 307.8" stroke="#000" stroke-width="2.5" fill="none" stroke-linecap="round"/>
<path d="M146.0 338.0C149.0 334.8 152.0 331.5 155.0 328.5C158.0 325.5 161.2 322.8 164.0 320.0C166.8 317.2 169.2 314.2 172.0 311.5C174.8 308.8 178.0 305.9 181.0 303.6C184.0 301.4 186.8 299.5 190.0 298.0C193.2 296.5 196.7 295.7 200.0 294.5" stroke="#000" stroke-width="2.8" fill="none" stroke-linecap="round"/>
<path d="M156.0 347.0C159.0 343.8 161.8 340.6 165.0 337.5C168.2 334.4 172.0 331.3 175.0 328.5C178.0 325.7 180.4 322.8 183.0 320.5C185.6 318.2 187.9 316.7 190.4 314.8" stroke="#000" stroke-width="2.8" fill="none" stroke-linecap="round"/>
<path d="M190.4 314.5C193.8 312.2 197.6 309.4 200.7 307.6C203.8 305.8 206.4 304.9 209.0 303.9C211.6 302.8 214.3 302.0 216.2 301.3C218.1 300.6 218.9 300.2 220.3 299.6" stroke="#000" stroke-width="0.9" fill="none" stroke-linecap="round"/>
<path d="M191.2 316.0C194.5 313.7 198.1 311.0 201.2 309.2C204.2 307.4 206.9 306.4 209.5 305.3C212.1 304.2 214.7 303.3 216.5 302.6C218.3 301.9 219.2 301.5 220.5 301.0" stroke="#000" stroke-width="0.9" fill="none" stroke-linecap="round"/>
<path d="M156.3 350.0L156.9 349.6L157.6 349.3L158.2 348.9L158.9 348.5L159.5 348.2L160.1 347.8L160.8 347.4L161.4 347.0L162.0 346.7L162.7 346.3L163.3 345.9L163.9 345.6L164.6 345.2L165.2 344.8L165.8 344.5L166.4 344.1L167.0 343.8L167.6 343.5L168.1 343.2L168.7 342.9L169.3 342.6L169.8 342.4L170.4 342.1L170.9 341.8L171.5 341.5L172.1 341.2L172.6 340.9L173.2 340.6L173.8 340.3L174.4 339.9L175.0 339.6L175.6 339.2L176.2 338.8L176.9 338.4L177.5 338.0L178.2 337.5L178.9 337.1L179.6 336.6L180.3 336.1L181.0 335.6L181.7 335.2L182.4 334.7L183.0 334.2L183.7 333.8L184.3 333.3L184.9 332.9L185.5 332.4L186.1 332.0L186.6 331.6L187.1 331.3L187.6 330.9L188.1 330.5L188.5 330.1L189.0 329.8L189.4 329.4L189.8 329.1L190.2 328.7L190.6 328.4L191.0 328.1L191.4 327.8L191.8 327.5L192.1 327.1L192.5 326.8L192.9 326.5L193.2 326.3L193.5 326.0L193.8 325.8L194.1 325.6L194.4 325.4L194.6 325.2L194.9 324.9L195.2 324.7L195.4 324.5L195.7 324.3L196.0 324.0L196.4 323.7L196.7 323.4L197.1 323.0L197.5 322.6L198.0 322.2L198.5 321.7L199.0 321.1L199.6 320.5L200.2 319.9L200.9 319.2L201.5 318.5L202.2 317.8L202.9 317.0L203.6 316.3L204.3 315.6L204.9 314.8L205.6 314.1L206.3 313.4L206.9 312.8L207.5 312.2L208.1 311.6L208.6 311.0L209.2 310.5L209.8 309.9L210.3 309.4L210.9 308.9L211.4 308.4L211.9 307.9L212.4 307.4L213.0 306.9L213.5 306.5L213.9 306.0L214.4 305.6L214.8 305.2L215.3 304.9L215.7 304.5L216.0 304.2L216.3 303.9L216.6 303.6L216.9 303.3L217.2 303.1L217.4 303.0L217.6 302.8L217.8 302.6L217.9 302.5L218.1 302.4L218.3 302.2L218.5 302.1L218.7 302.0L218.9 301.8L219.2 301.6L219.4 301.4L218.6 300.2L218.4 300.3L218.1 300.4L217.9 300.4L217.7 300.5L217.5 300.6L217.2 300.7L217.0 300.8L216.8 300.9L216.5 301.0L216.2 301.1L215.9 301.3L215.6 301.5L215.2 301.7L214.8 301.9L214.4 302.2L214.0 302.5L213.6 302.9L213.1 303.2L212.7 303.6L212.2 304.0L211.7 304.5L211.2 304.9L210.6 305.4L210.1 305.9L209.5 306.4L209.0 306.9L208.4 307.4L207.9 307.9L207.3 308.5L206.7 309.0L206.1 309.6L205.5 310.2L204.9 310.8L204.2 311.5L203.6 312.2L202.9 312.9L202.2 313.7L201.5 314.4L200.8 315.1L200.1 315.9L199.5 316.6L198.8 317.3L198.2 318.0L197.6 318.6L197.0 319.2L196.5 319.7L196.0 320.2L195.6 320.6L195.2 321.0L194.8 321.4L194.5 321.7L194.2 321.9L193.9 322.2L193.7 322.4L193.4 322.6L193.2 322.8L192.9 323.0L192.7 323.2L192.4 323.4L192.1 323.6L191.8 323.9L191.5 324.2L191.1 324.5L190.8 324.8L190.4 325.1L190.0 325.4L189.7 325.7L189.3 326.1L188.9 326.4L188.5 326.7L188.1 327.0L187.7 327.4L187.3 327.7L186.9 328.1L186.4 328.4L186.0 328.8L185.5 329.2L185.0 329.6L184.5 330.0L184.0 330.4L183.4 330.8L182.8 331.3L182.2 331.7L181.6 332.2L180.9 332.7L180.3 333.2L179.6 333.7L178.9 334.2L178.2 334.7L177.6 335.2L176.9 335.6L176.3 336.1L175.6 336.5L175.0 337.0L174.4 337.4L173.8 337.8L173.3 338.1L172.7 338.5L172.2 338.9L171.6 339.2L171.1 339.5L170.6 339.8L170.0 340.2L169.5 340.5L169.0 340.8L168.4 341.1L167.9 341.5L167.3 341.8L166.8 342.1L166.2 342.5L165.6 342.9L165.0 343.2L164.4 343.6L163.8 344.0L163.2 344.3L162.6 344.7L162.0 345.1L161.3 345.5L160.7 345.9L160.1 346.3L159.5 346.7L158.8 347.0L158.2 347.4L157.6 347.8L156.9 348.2L156.3 348.6L155.7 349.0Z" fill="#000"/>
<path d="M188.6 315.8L193.8 323.6" stroke="#000" stroke-width="5.2"/>
<path d="M204 311L212 305L217.5 301.8L210 308.5Z" fill="#000"/>
<path d="M150.0 368.0C155.0 365.5 159.6 363.3 165.0 360.5C170.4 357.7 177.5 354.3 182.5 351.2C187.5 348.1 190.9 345.5 195.0 342.0C199.1 338.5 203.8 333.8 207.1 330.4C210.4 327.0 212.8 324.1 215.0 321.5C217.2 318.9 219.1 316.8 220.5 315.0C221.9 313.2 222.5 312.0 223.5 310.5" stroke="#000" stroke-width="3.0" fill="none" stroke-linecap="round"/>
<path d="M200 340Q206 333.5 211 332.6L214 331.5L208 336Z" fill="#000"/>
<ellipse cx="134.3" cy="336.0" rx="6.6" ry="7.2" transform="rotate(25 134.3 336.0)" fill="#000"/><ellipse cx="133.4" cy="336.1" rx="3.9" ry="5.6" transform="rotate(25 133.4 336.1)" fill="#fff"/>
<path d="M110.7 349.0L135.0 339.5A2.70 2.70 0 0 0 133.0 334.5L108.7 344.0Z" fill="#fff" stroke="#111" stroke-width="1.25"/>
<ellipse cx="109.7" cy="346.5" rx="2.4" ry="2.9" transform="rotate(20 109.7 346.5)" fill="#ddd" stroke="#111" stroke-width="1.2"/>
<ellipse cx="148.6" cy="345.0" rx="6.9" ry="7.8" transform="rotate(35 148.6 345.0)" fill="#000"/><ellipse cx="147.8" cy="344.9" rx="4.2" ry="6.0" transform="rotate(35 147.8 344.9)" fill="#fff"/>
<path d="M131.6 364.3L149.6 347.7A2.70 2.70 0 0 0 146.0 343.7L128.0 360.3Z" fill="#fff" stroke="#111" stroke-width="1.25"/>
<ellipse cx="129.8" cy="362.3" rx="2.4" ry="2.8" transform="rotate(40 129.8 362.3)" fill="#ddd" stroke="#111" stroke-width="1.2"/>
<ellipse cx="147.2" cy="361.5" rx="6.4" ry="7.8" transform="rotate(25 147.2 361.5)" fill="#000"/><ellipse cx="146.4" cy="361.5" rx="3.9" ry="6.0" transform="rotate(25 146.4 361.5)" fill="#fff"/>
<path d="M123.8 376.4L147.5 364.8A2.80 2.80 0 0 0 145.1 359.8L121.4 371.4Z" fill="#fff" stroke="#111" stroke-width="1.25"/>
<ellipse cx="122.6" cy="373.9" rx="2.4" ry="2.9" transform="rotate(25 122.6 373.9)" fill="#ddd" stroke="#111" stroke-width="1.2"/>
<path d="M98 167V294" stroke="#000" stroke-width="2.1" fill="none"/>
<path d="M238.3 167V286" stroke="#000" stroke-width="2.1" fill="none"/>
<path d="M406.8 224V282.4H515.5" stroke="#000" stroke-width="2.1" fill="none"/>
<path d="M304.7 276V327.2H413" stroke="#000" stroke-width="2.1" fill="none"/>
<path d="M163.3 355.4V393H320" stroke="#000" stroke-width="2.1" fill="none"/>
<text x="47.6" y="155.9" textLength="92.0" font-family="Liberation Sans" font-weight="bold" font-size="18.5" fill="#0a0a0a" lengthAdjust="spacing" style="will-change:transform">Conductor</text>
<text x="174.5" y="155.6" textLength="150.4" font-family="Liberation Sans" font-weight="bold" font-size="18.5" fill="#0a0a0a" lengthAdjust="spacing" style="will-change:transform">Aluminum Shield</text>
<text x="524.4" y="286.9" textLength="33.9" font-family="Liberation Sans" font-weight="bold" font-size="18.5" fill="#0a0a0a" lengthAdjust="spacing" style="will-change:transform">PVC</text>
<text x="419.0" y="332.9" textLength="102.0" font-family="Liberation Sans" font-weight="bold" font-size="18.5" fill="#0a0a0a" lengthAdjust="spacing" style="will-change:transform">Braid shield</text>
<text x="331.6" y="398.6" textLength="86.9" font-family="Liberation Sans" font-weight="bold" font-size="18.5" fill="#0a0a0a" lengthAdjust="spacing" style="will-change:transform">Insulation</text></svg></body></html>
